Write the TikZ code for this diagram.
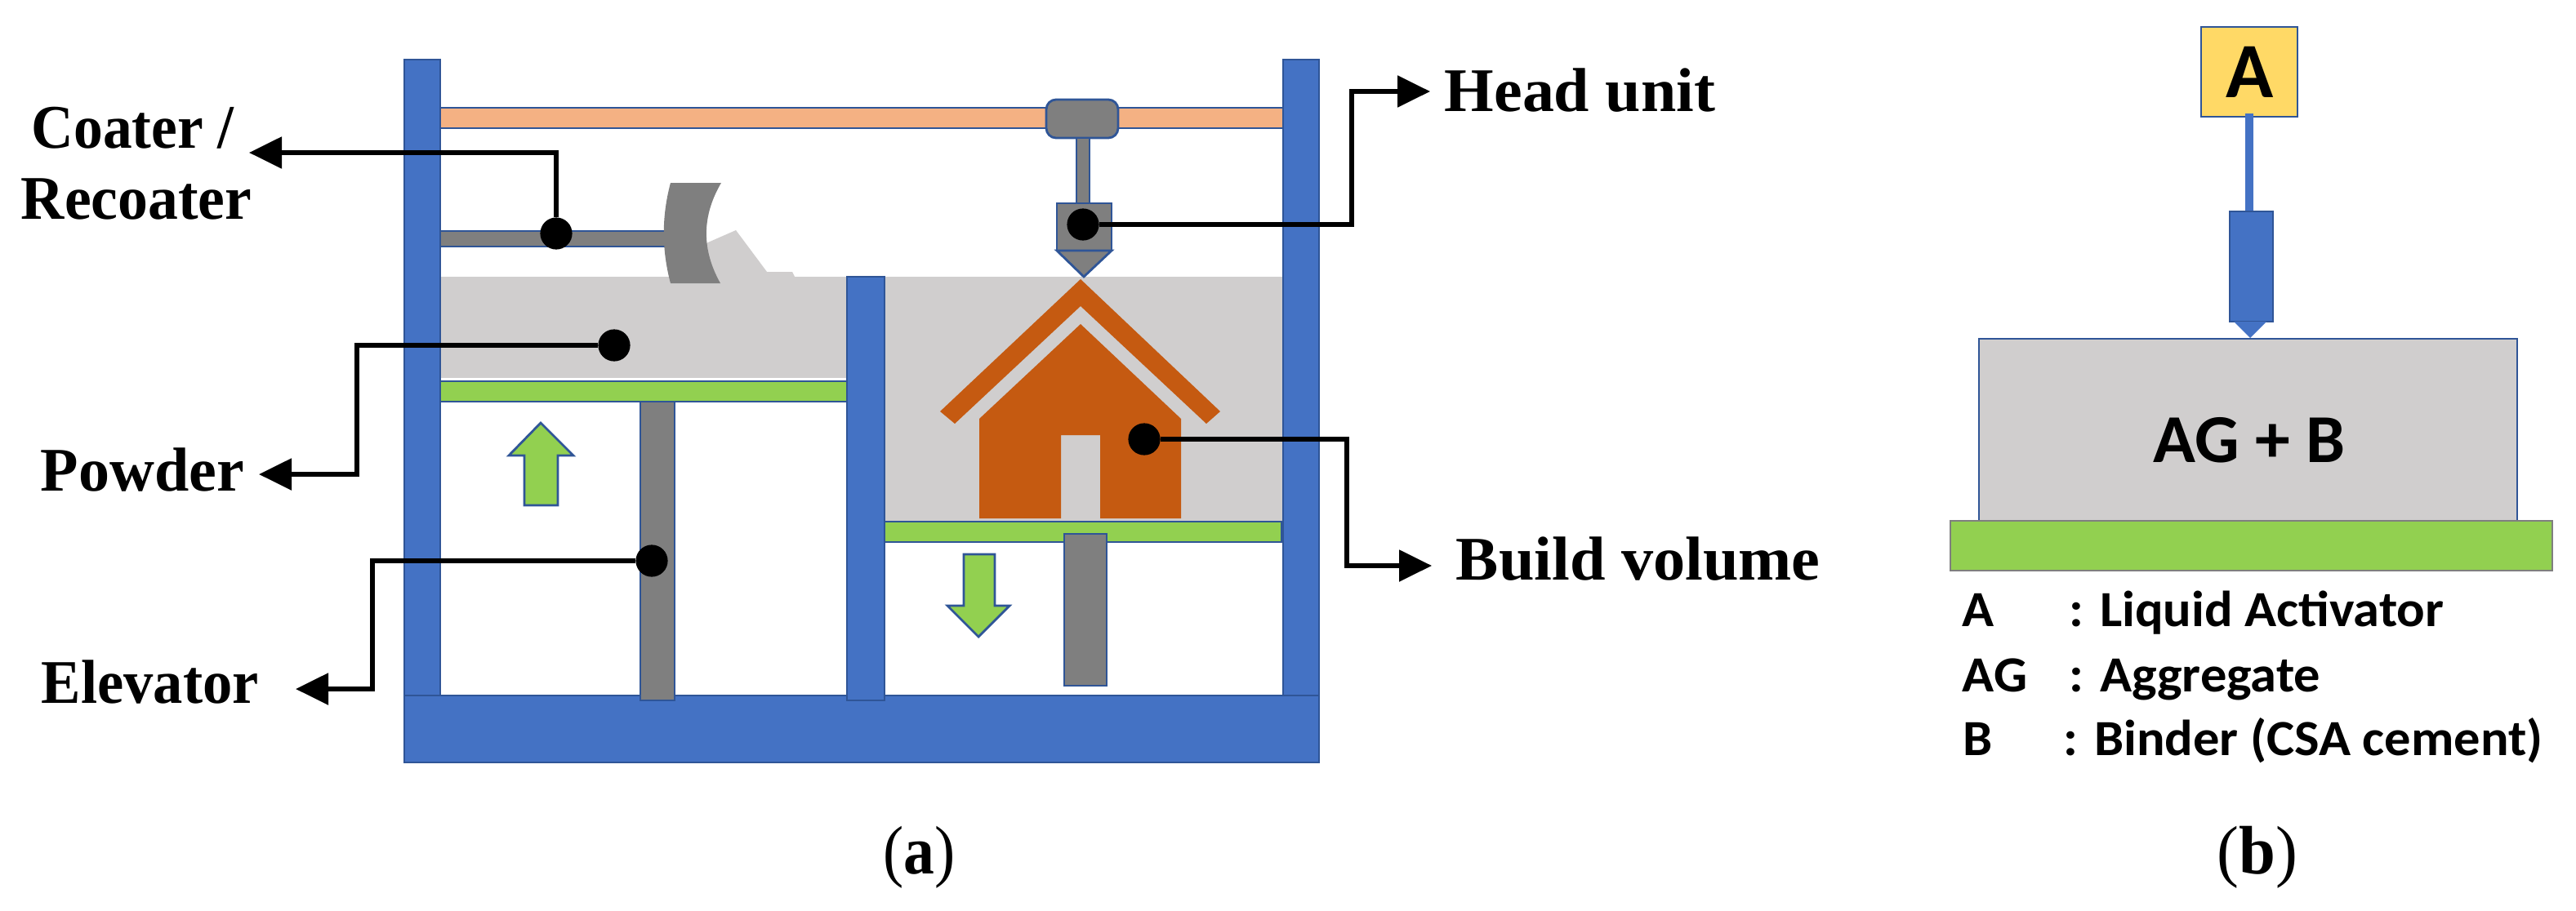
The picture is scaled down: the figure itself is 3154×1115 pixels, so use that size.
\documentclass[tikz,border=0pt]{standalone}
\usepackage{fontspec}
\usetikzlibrary{arrows.meta}
\setmainfont{Liberation Serif}
\newfontfamily\labelsans{Carlito}
\definecolor{frameblue}{HTML}{4472C4}
\definecolor{edgeblue}{HTML}{2F5597}
\definecolor{powdergray}{HTML}{D0CECE}
\definecolor{steelgray}{HTML}{7F7F7F}
\definecolor{platgreen}{HTML}{92D050}
\definecolor{railorange}{HTML}{F4B183}
\definecolor{housebrown}{HTML}{C55A11}
\definecolor{tankyellow}{HTML}{FFD966}
\tikzset{
  x=0.25pt, y=-0.25pt,
  part/.style={draw=edgeblue, line width=0.7pt},
  framepart/.style={part, fill=frameblue},
  steelpart/.style={part, fill=steelgray},
  greenpart/.style={part, fill=platgreen},
  leader/.style={draw=black, line width=1.35pt, line join=miter},
  pointer/.style={leader, -{Triangle[length=10pt,width=9.5pt]}},
  dot/.style={circle, fill=black, inner sep=0pt, minimum size=9.8pt},
  partlabel/.style={anchor=base west, inner sep=0pt, font=\fontsize{19}{22}\selectfont\bfseries, transform shape},
  caption/.style={anchor=base west, inner sep=0pt, font=\fontsize{21}{24}\selectfont, transform shape},
  legend/.style={anchor=base west, inner sep=0pt, font=\labelsans\fontsize{15.5}{18}\selectfont\bfseries, xscale=1.04, transform shape},
}
\begin{document}
\begin{tikzpicture}
\useasboundingbox (0,0) rectangle (3154,1115);
\fill[white] (0,0) rectangle (3154,1115);

% powder beds
\fill[powdergray] (539,339) rectangle (1036,463);
\fill[powdergray] (1083,339) rectangle (1571,639);

% gantry rail and carriage
\draw[part, fill=railorange] (525,132) rectangle (1585,157);
\draw[steelpart, rounded corners=3pt] (1281,122) rectangle (1369,169);
\draw[steelpart] (1318,169) rectangle (1334,249);
\draw[steelpart] (1294,249) rectangle (1361,307);
\draw[steelpart] (1294,307) -- (1361,307) -- (1327,339) -- cycle;

% recoater arm, spread powder and blade
\draw[steelpart] (525,283) rectangle (815,302);
\fill[powdergray] (860,300) -- (901,282) -- (939,333) -- (970,333) -- (973,339) -- (880,345) -- cycle;
\fill[steelgray] (821,224) -- (883,224) .. controls (859,265) and (859,306) .. (882,347) -- (821,347)
  .. controls (810,306) and (810,265) .. (821,224) -- cycle;

% house being printed
\fill[housebrown] (1323,342) -- (1494,504) -- (1477,519) -- (1323,375) -- (1169,519) -- (1151,504) -- cycle;
\fill[housebrown] (1323,397) -- (1446,513) -- (1446,635) -- (1347,635) -- (1347,533) -- (1299,533) -- (1299,635) -- (1199,635) -- (1199,513) -- cycle;

% base plate
\draw[framepart] (495,852) rectangle (1615,934);

% platforms and elevators
\draw[greenpart] (525,467) rectangle (1040,492);
\draw[steelpart] (784,492) rectangle (826,858);
\draw[greenpart] (1080,639) rectangle (1569,664);
\draw[steelpart] (1303,654) rectangle (1355,840);

% frame columns
\draw[framepart] (495,73) rectangle (539,852);
\draw[framepart] (1571,73) rectangle (1615,852);
\draw[framepart] (1037,339) rectangle (1083,858);

% motion arrows
\draw[greenpart] (662,518) -- (702,558) -- (683,558) -- (683,619) -- (642,619) -- (642,558) -- (623,558) -- cycle;
\draw[greenpart] (1180,679) -- (1218,679) -- (1218,742) -- (1236,742) -- (1198,780) -- (1160,742) -- (1180,742) -- cycle;

% part labels
\node[partlabel, xscale=0.94] (lblCoater) at (38,181) {Coater /};
\node[partlabel, xscale=0.97] (lblRecoater) at (25,268) {Recoater};
\node[partlabel] (lblPowder) at (49,601) {Powder};
\node[partlabel, xscale=0.955] (lblElevator) at (50,861) {Elevator};
\node[partlabel, xscale=1.025] (lblHead) at (1768,136) {Head unit};
\node[partlabel, xscale=1.03] (lblBuild) at (1782,710) {Build volume};

% leader dots
\node[dot] (dotCoater) at (681,286) {};
\node[dot] (dotHead) at (1326,275) {};
\node[dot] (dotPowder) at (752,423) {};
\node[dot] (dotElevator) at (798,687) {};
\node[dot] (dotBuild) at (1401,538) {};

% leader bends and arrow tips
\coordinate (tipCoater) at (305,187);
\coordinate (kneeHead) at (1655,112);
\coordinate (tipHead) at (1751,112);
\coordinate (kneePowder) at (437,581);
\coordinate (tipPowder) at (317,581);
\coordinate (kneeElevator) at (456,844);
\coordinate (tipElevator) at (362,844);
\coordinate (kneeBuild) at (1649,693);
\coordinate (tipBuild) at (1753,693);

\draw[pointer] (dotCoater) |- (tipCoater);
\draw[pointer] (dotHead) -| (kneeHead) -- (tipHead);
\draw[pointer] (dotPowder) -| (kneePowder) -- (tipPowder);
\draw[pointer] (dotElevator) -| (kneeElevator) -- (tipElevator);
\draw[pointer] (dotBuild) -| (kneeBuild) -- (tipBuild);

\node[caption, xscale=0.9] (capA) at (1081,1070) {(\textbf{a})};

% binder-jetting detail
\draw[part, fill=powdergray] (2423,415) rectangle (3082,638);
\draw[draw=steelgray, line width=0.6pt, fill=platgreen] (2388,638) rectangle (3125,699);
\node[anchor=base, inner sep=0pt, font=\labelsans\fontsize{21}{24}\selectfont\bfseries, xscale=1.02, transform shape] (mix) at (2754,566) {AG + B};
\node[part, fill=tankyellow, minimum width=29.5pt, minimum height=27.5pt, inner sep=0pt] (tank) at (2754,88) {};
\node[anchor=base, inner sep=0pt, font=\labelsans\fontsize{24}{28}\selectfont\bfseries] (tankA) at (2754.5,119) {A};
\draw[frameblue, line width=2.5pt] (2754,139) -- (2754,259);
\draw[framepart] (2730,259) rectangle (2783,394);
\fill[frameblue] (2735,394) -- (2775,394) -- (2755,414) -- cycle;

% legend
\node[legend] (keyA) at (2402,767) {A};
\node[legend] (defA) at (2533,767) {: Liquid Activator};
\node[legend] (keyAG) at (2402,847) {AG};
\node[legend] (defAG) at (2533,847) {: Aggregate};
\node[legend] (keyB) at (2403,925) {B};
\node[legend] (defB) at (2526,925) {: Binder (CSA cement)};

\node[caption, xscale=0.96] (capB) at (2714,1070) {(\textbf{b})};
\end{tikzpicture}
\end{document}
